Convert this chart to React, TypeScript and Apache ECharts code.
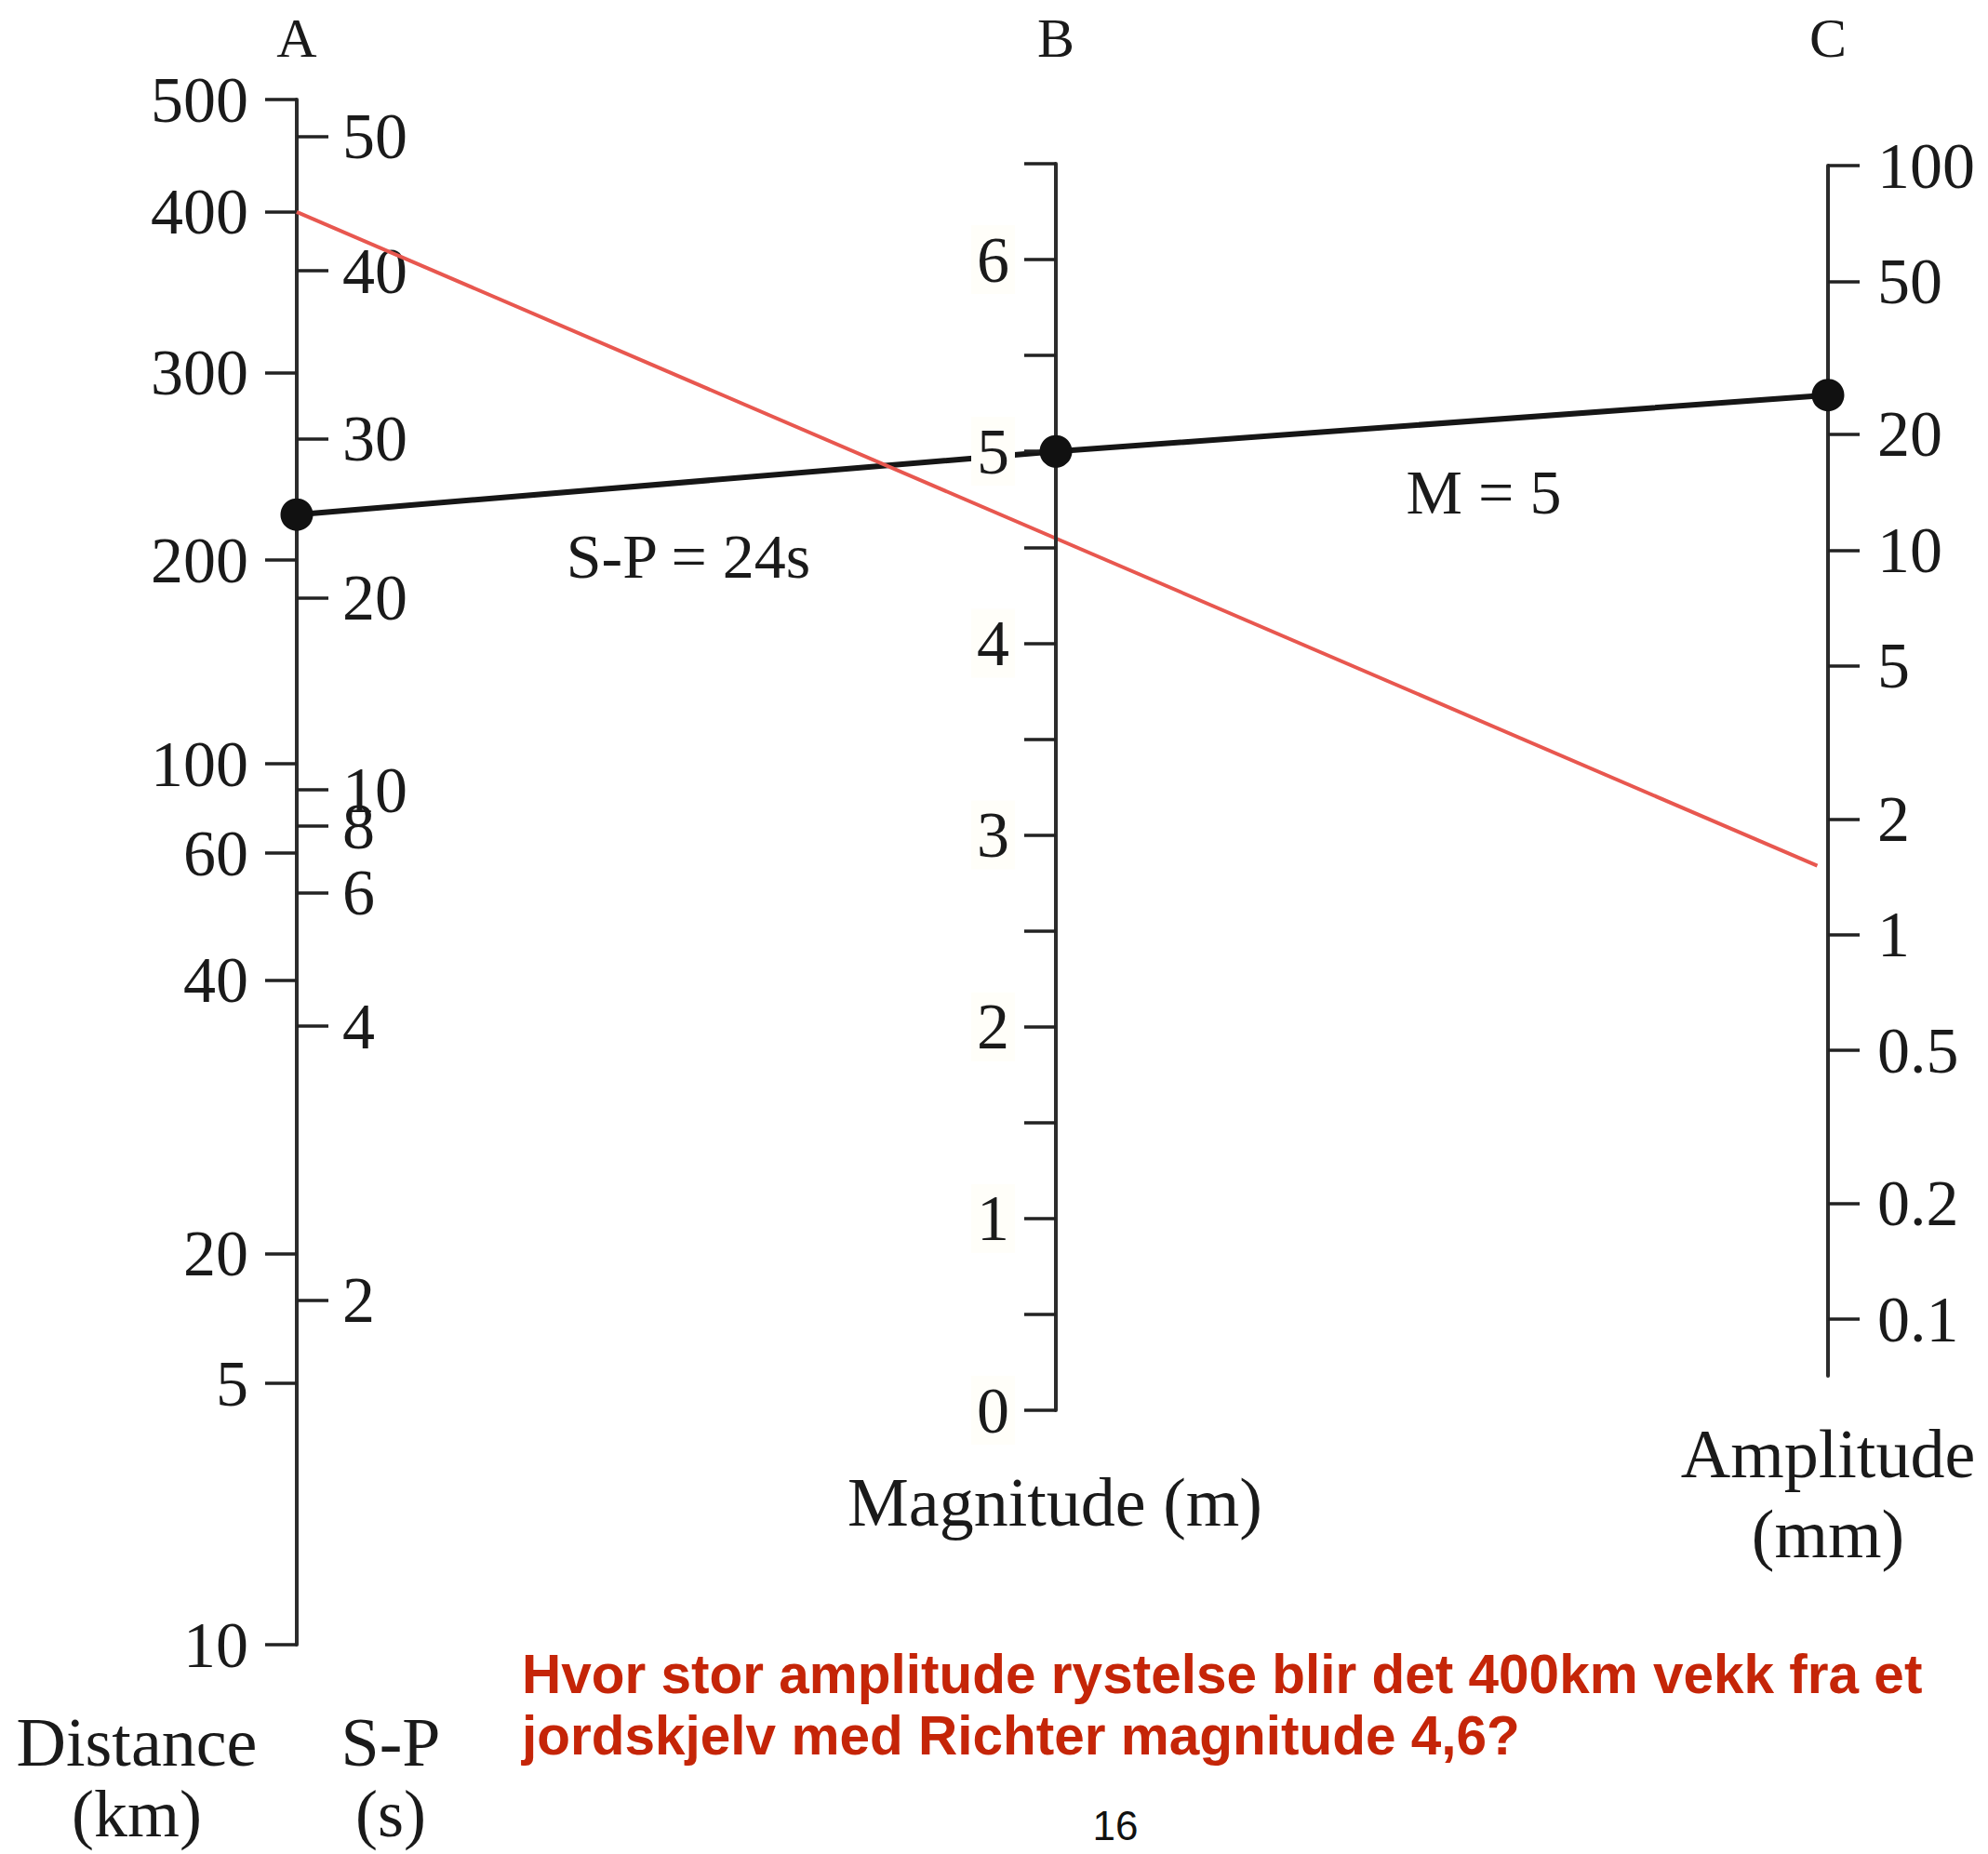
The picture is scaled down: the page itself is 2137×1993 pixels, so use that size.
import React, { useEffect, useRef } from "react";
import * as echarts from "echarts";

// ---- Scale A (left): epicentral distance (km) and S-P interval (s) ----
// Each tick is given with its value on the nomogram's distance-correction scale (−log A0),
// read off the picture.
const distanceTicks = [500, 400, 300, 200, 100, 60, 40, 20, 5, 10];
const distanceScale = [4.7, 4.403, 3.978, 3.484, 2.946, 2.71, 2.374, 1.652, 1.31, 0.62];
const spTicks = [50, 40, 30, 20, 10, 8, 6, 4, 2];
const spScale = [4.603, 4.248, 3.805, 3.385, 2.877, 2.781, 2.605, 2.253, 1.529];

// ---- Scale B (middle): magnitude ----
const magnitudeLabels = [0, 1, 2, 3, 4, 5, 6];
const magnitudeMin = 0;
const magnitudeMax = 6.5;
const magnitudeStep = 0.5;

// ---- Scale C (right): amplitude (mm), logarithmic ----
const amplitudeTicks = [100, 50, 20, 10, 5, 2, 1, 0.5, 0.2, 0.1];
const amplitudeAxisMin = 0.0712;

// ---- Worked example (black): S-P = 24 s, amplitude ≈ 25 mm  → M = 5 ----
const exampleSpPosition = 3.604; // the 24 s point on scale A
const exampleMagnitude = 5;
const exampleAmplitude = 25.3;

// ---- Question line (red): 400 km → M ≈ 4.6 → amplitude ----
const questionDistance = 400;
const questionEndAmplitude = 1.51;
const questionEndSpan = 0.993; // fraction of the A–C span where the red line stops

const W = 2137;
const H = 1993;

export default function App() {
  const ref = useRef<HTMLDivElement>(null);

  useEffect(() => {
    const el = ref.current;
    if (!el) return;
    const chart = echarts.init(el, null, { renderer: "svg" });

    const serif = '"Liberation Serif", "DejaVu Serif", serif';
    const sans = '"Liberation Sans", Arial, sans-serif';
    const ink = "#1a1a1a";
    const nearest = (arr: number[], v: number) => {
      let bi = 0;
      let bd = Infinity;
      arr.forEach((a, i) => {
        const d = Math.abs(a - v);
        if (d < bd) {
          bd = d;
          bi = i;
        }
      });
      return bi;
    };
    const ampLog = amplitudeTicks.map((a) => Math.log10(a));
    const tickLabel = {
      fontFamily: serif,
      fontSize: 70,
      color: ink,
      hideOverlap: false,
      showMinLabel: true,
      showMaxLabel: true,
    };
    const axisLine = { show: true, onZero: false, lineStyle: { color: "#2c2c2c", width: 4 } };
    const tickStyle = { color: "#222", width: 3.5 };
    const hiddenX = (g: number) => ({ type: "value", gridIndex: g, min: 0, max: 1, show: false });

    const text = (t: string, x: number, y: number, font: string, fill = ink) => ({
      type: "text",
      x,
      y,
      z: 20,
      style: { text: t, font, fill, align: "center", verticalAlign: "middle" },
    });
    const leftText = (t: string, x: number, y: number, font: string, fill: string) => ({
      type: "text",
      x,
      y,
      z: 20,
      style: { text: t, font, fill, align: "left", verticalAlign: "middle" },
    });

    const titleFont = `74px ${serif}`;
    const noteFont = `68px ${serif}`;
    const letterFont = `60px ${serif}`;
    const redFont = `bold 58.5px ${sans}`;

    const distMin = Math.min(...distanceScale);
    const distMax = Math.max(...distanceScale);

    const option: any = {
      animation: false,
      backgroundColor: "#ffffff",
      grid: [
        { left: 319, top: 107, width: 1, height: 1661, outerBoundsMode: "none" },
        { left: 1135, top: 176, width: 1, height: 1340, outerBoundsMode: "none" },
        { left: 1965, top: 178, width: 1, height: 1301, outerBoundsMode: "none" },
        { left: 319, top: 0, width: 1646, height: H, outerBoundsMode: "none" },
      ],
      xAxis: [hiddenX(0), hiddenX(1), hiddenX(2), hiddenX(3)],
      yAxis: [
        {
          type: "value",
          gridIndex: 0,
          position: "left",
          min: distMin,
          max: distMax,
          axisLine,
          axisTick: { show: true, length: 34, lineStyle: tickStyle, customValues: distanceScale },
          axisLabel: {
            ...tickLabel,
            margin: 52,
            customValues: distanceScale,
            formatter: (v: number) => String(distanceTicks[nearest(distanceScale, v)]),
          },
          splitLine: { show: false },
        },
        {
          type: "value",
          gridIndex: 0,
          position: "left",
          min: distMin,
          max: distMax,
          axisLine: { show: false },
          axisTick: { show: true, inside: true, length: 34, lineStyle: tickStyle, customValues: spScale },
          axisLabel: {
            ...tickLabel,
            inside: true,
            margin: 49,
            customValues: spScale,
            formatter: (v: number) => String(spTicks[nearest(spScale, v)]),
          },
          splitLine: { show: false },
        },
        {
          type: "value",
          gridIndex: 1,
          position: "left",
          min: magnitudeMin,
          max: magnitudeMax,
          interval: magnitudeStep,
          z: 3,
          axisLine,
          axisTick: { show: true, length: 34, lineStyle: tickStyle },
          axisLabel: {
            ...tickLabel,
            margin: 44,
            customValues: magnitudeLabels,
            formatter: (v: number) => String(Math.round(v)),
            backgroundColor: "#fffef9",
            padding: [2, 6, 2, 6],
          },
          splitLine: { show: false },
        },
        {
          type: "value",
          gridIndex: 2,
          position: "left",
          min: Math.log10(amplitudeAxisMin),
          max: Math.max(...ampLog),
          axisLine,
          axisTick: { show: true, inside: true, length: 34, lineStyle: tickStyle, customValues: ampLog },
          axisLabel: {
            ...tickLabel,
            inside: true,
            margin: 53,
            customValues: ampLog,
            formatter: (v: number) => String(amplitudeTicks[nearest(ampLog, v)]),
          },
          splitLine: { show: false },
        },
        { type: "value", gridIndex: 3, min: 0, max: H, inverse: true, show: false },
      ],
      graphic: [
        text("A", 319, 41, letterFont),
        text("B", 1135, 41, letterFont),
        text("C", 1965, 41, letterFont),
        text("S-P = 24s", 740, 598, noteFont),
        text("M = 5", 1595, 529, noteFont),
        text("Magnitude (m)", 1134, 1615, titleFont),
        text("Amplitude", 1965, 1563, titleFont),
        text("(mm)", 1965, 1649, titleFont),
        text("Distance", 147, 1873, titleFont),
        text("(km)", 147, 1950, `72px ${serif}`),
        text("S-P", 420, 1873, titleFont),
        text("(s)", 420, 1950, `72px ${serif}`),
        leftText("Hvor stor amplitude rystelse blir det 400km vekk fra et", 561, 1799, redFont, "#c52508"),
        leftText("jordskjelv med Richter magnitude 4,6?", 561, 1865, redFont, "#c52508"),
        text("16", 1199, 1962, `44px ${sans}`, "#111"),
      ],
      series: [],
    };

    chart.setOption(option);

    // Positions of the marks, taken from each scale through the library's axes.
    const yPix = (axisIndex: number, v: number) =>
      chart.convertToPixel({ yAxisIndex: axisIndex } as any, v) as unknown as number;
    const xPix = (axisIndex: number) =>
      chart.convertToPixel({ xAxisIndex: axisIndex } as any, 0) as unknown as number;
    const toOverlay = (px: number, py: number) =>
      chart.convertFromPixel({ gridIndex: 3 } as any, [px, py]) as unknown as number[];

    const xA = xPix(0);
    const xB = xPix(1);
    const xC = xPix(2);

    const blackPts = [
      toOverlay(xA, yPix(1, exampleSpPosition)),
      toOverlay(xB, yPix(2, exampleMagnitude)),
      toOverlay(xC, yPix(3, Math.log10(exampleAmplitude))),
    ];
    const redStart = distanceScale[distanceTicks.indexOf(questionDistance)];
    const redPts = [
      toOverlay(xA, yPix(0, redStart)),
      toOverlay(xA + questionEndSpan * (xC - xA), yPix(3, Math.log10(questionEndAmplitude))),
    ];

    chart.setOption({
      series: [
        {
          type: "line",
          name: "S-P = 24s, M = 5",
          xAxisIndex: 3,
          yAxisIndex: 4,
          data: blackPts,
          symbol: "none",
          lineStyle: { color: "#161616", width: 6 },
          z: 2,
          silent: true,
        },
        {
          type: "scatter",
          xAxisIndex: 3,
          yAxisIndex: 4,
          data: blackPts,
          symbol: "circle",
          symbolSize: 35,
          itemStyle: { color: "#111111", opacity: 1 },
          z: 6,
          silent: true,
        },
        {
          type: "line",
          name: "400 km",
          xAxisIndex: 3,
          yAxisIndex: 4,
          data: redPts,
          symbol: "none",
          lineStyle: { color: "#e8574f", width: 4 },
          z: 2,
          silent: true,
        },
      ],
    });

    return () => {
      chart.dispose();
    };
  }, []);

  return (
    <div
      ref={ref}
      style={{ position: "fixed", left: 0, top: 0, width: W, height: H, background: "#fff" }}
    />
  );
}
